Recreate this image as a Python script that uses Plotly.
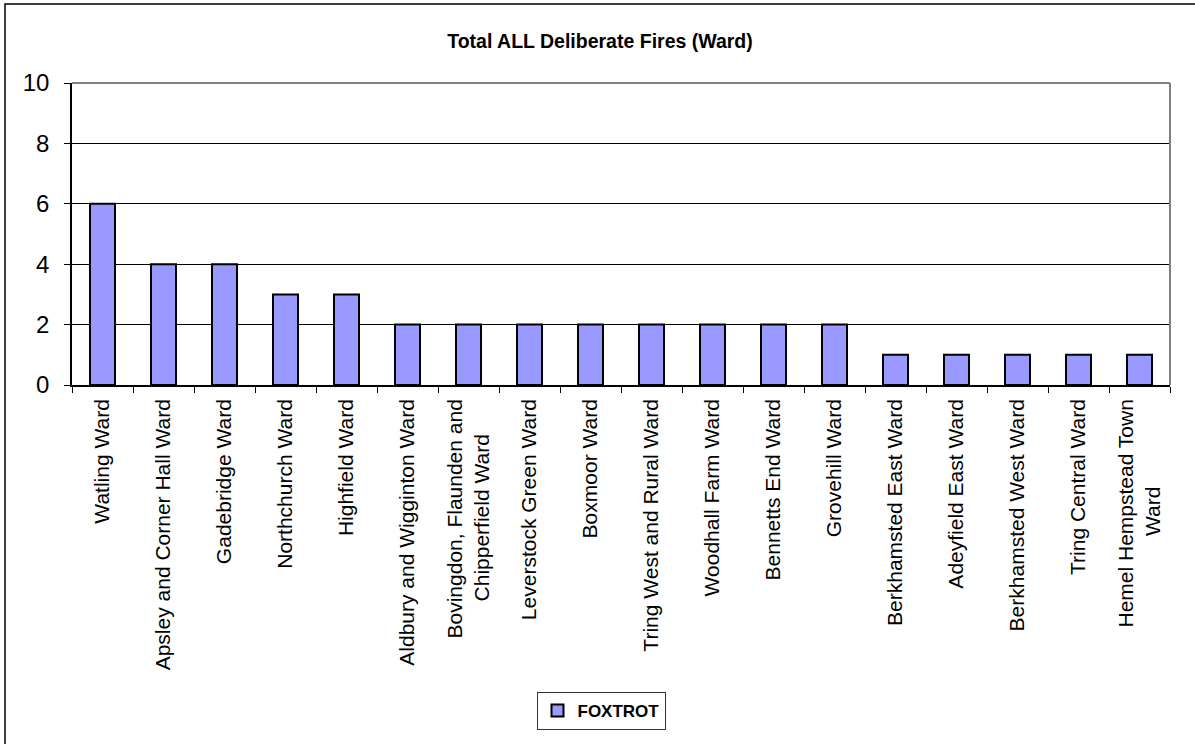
import plotly.graph_objects as go

wards = [
    "Watling Ward",
    "Apsley and Corner Hall Ward",
    "Gadebridge Ward",
    "Northchurch Ward",
    "Highfield Ward",
    "Aldbury and Wigginton Ward",
    "Bovingdon, Flaunden and<br>Chipperfield Ward",
    "Leverstock Green Ward",
    "Boxmoor Ward",
    "Tring West and Rural Ward",
    "Woodhall Farm Ward",
    "Bennetts End Ward",
    "Grovehill Ward",
    "Berkhamsted East Ward",
    "Adeyfield East Ward",
    "Berkhamsted West Ward",
    "Tring Central Ward",
    "Hemel Hempstead Town<br>Ward",
]
foxtrot = [6, 4, 4, 3, 3, 2, 2, 2, 2, 2, 2, 2, 2, 1, 1, 1, 1, 1]
y_ticks = [0, 2, 4, 6, 8, 10]

# second lines of wrapped labels are centred (as in the original)
NB = "\u00a0"
tick_text = []
for w in wards:
    if w.startswith("Bovingdon"):
        tick_text.append(w + NB * 6)
    elif w.startswith("Hemel"):
        tick_text.append(w + NB * 15)
    else:
        tick_text.append(w)

W, H = 1195, 744
L, R, T, B = 72, 25, 83, 359
pw, ph = W - L - R, H - T - B

def px_x(x):
    return (x - L) / pw

def px_y(y):
    return (H - B - y) / ph

FONT = "Liberation Sans, Arial, sans-serif"

fig = go.Figure()
fig.add_trace(go.Bar(
    x=wards, y=foxtrot, name="<b>FOXTROT</b>",
    marker=dict(color="#9999FF", line=dict(color="black", width=2)),
))

fig.update_layout(
    width=W, height=H,
    margin=dict(l=L, r=R, t=T, b=B, pad=0),
    paper_bgcolor="white", plot_bgcolor="white",
    bargap=0.59,
    font=dict(family=FONT, color="black"),
    title=dict(text="<b>Total ALL Deliberate Fires (Ward)</b>",
               font=dict(size=19.5, family=FONT, color="black"),
               x=600 / W, xanchor="center", xref="container",
               y=1 - 41 / H, yanchor="middle", yref="container"),
    showlegend=True,
    legend=dict(orientation="h", x=px_x(601), xanchor="center",
                y=px_y(711), yanchor="middle",
                bordercolor="#333333", borderwidth=1, bgcolor="white",
                font=dict(size=17, family=FONT, color="black"),
                itemwidth=30),
    xaxis=dict(type="category", tickangle=-90, tickfont=dict(size=21, family=FONT),
               tickmode="array", tickvals=wards, ticktext=tick_text,
               showline=True, linecolor="black", linewidth=1.5,
               ticks="outside", ticklen=6, tickcolor="black", tickson="boundaries",
               ticklabelstandoff=4,
               showgrid=False, fixedrange=True),
    yaxis=dict(range=[0, 10], tickvals=y_ticks, tickfont=dict(size=24, family=FONT),
               showline=True, linecolor="black", linewidth=1.5,
               ticks="outside", ticklen=6, tickcolor="black",
               ticklabelstandoff=10,
               showgrid=True, gridcolor="black", gridwidth=1,
               zeroline=False, fixedrange=True),
    shapes=[
        dict(type="line", xref="paper", yref="paper", x0=0, x1=1, y0=1, y1=1,
             line=dict(color="#808080", width=2), layer="above"),
        dict(type="line", xref="paper", yref="paper", x0=1, x1=1, y0=0, y1=1,
             line=dict(color="#808080", width=2), layer="above"),
        dict(type="rect", xref="paper", yref="paper",
             x0=px_x(5), x1=px_x(1210), y0=px_y(4), y1=px_y(760),
             line=dict(color="black", width=1.5), layer="below"),
    ],
)

fig.write_html("out.html")
